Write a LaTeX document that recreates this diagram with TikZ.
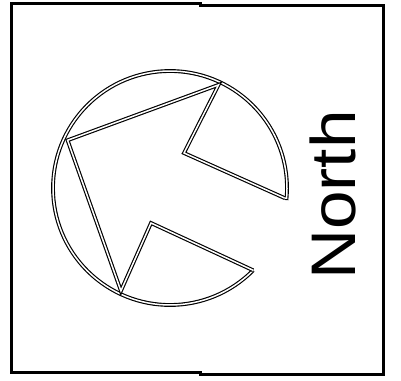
\documentclass[tikz,border=0pt]{standalone}
\usepackage{fontspec}
\setmainfont{Liberation Sans}
\begin{document}
\begin{tikzpicture}[x=1pt,y=1pt,
  frameline/.style={line width=3pt, line join=miter},
  dbl/.style={draw=black, line width=1.15pt, double=white, double distance=1.5pt, line join=miter},
  label/.style={font=\fontsize{63}{63}\selectfont, inner sep=0pt, anchor=base, rotate=90}]
\useasboundingbox (0,0) rectangle (401,-380);
% frame
\draw[frameline] (11.3,-3.4) -- (200,-3.4) -- (200,-5.6) -- (383,-5.6) -- (383,-374.3)
  -- (200,-374.3) -- (200,-372.3) -- (11.3,-372.3) -- cycle;
% centre of the dial
\coordinate (c) at (170,-188);
% arrow outline points (on or near the circle)
\coordinate (mu) at ([shift={(-5:115)}]c);
\coordinate (ni) at (184,-153);
\coordinate (tv) at ([shift={(64.8:114)}]c);
\coordinate (tip) at ([shift={(155:113)}]c);
\coordinate (bv) at ([shift={(244.5:114)}]c);
\coordinate (li) at (151,-223);
\coordinate (ml) at ([shift={(315.3:117)}]c);
% circle outline with the mouth open on the right
\draw[dbl] (ml) arc[start angle=315.3, end angle=-5, radius=117] -- (mu);
% arrow with notches
\draw[dbl] (mu) -- (ni) -- (tv) -- (tip) -- (bv) -- (li) -- (ml);
% label
\node[label] (north) at (355,-195) {\scalebox{1.1}[1]{North}};
\end{tikzpicture}
\end{document}
